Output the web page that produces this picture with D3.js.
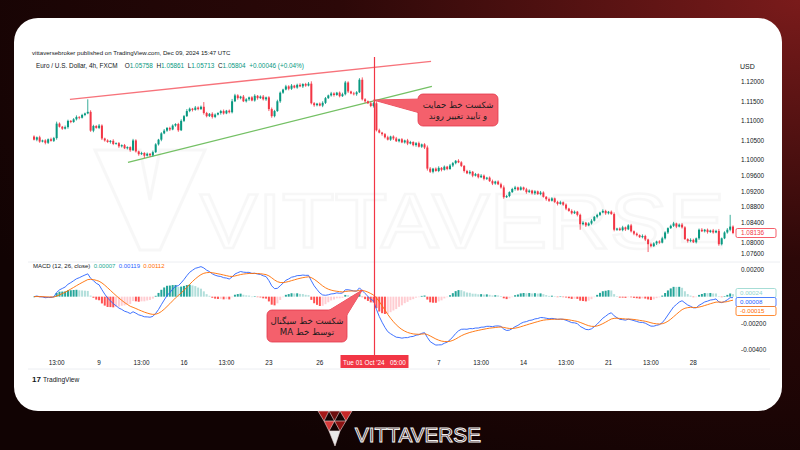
<!DOCTYPE html>
<html><head><meta charset="utf-8">
<script src="https://cdn.jsdelivr.net/npm/d3@7"></script>
<style>html,body{margin:0;padding:0;background:#1a0505;}svg{display:block}</style>
</head><body><svg id="c" width="800" height="450"></svg>
<script>
// ---------------- DATA ----------------
const firstOpen = 1.1060;
const closes = [
1.1052,1.1058,1.1047,1.1050,1.1044,1.1053,1.1049,1.1056,1.1093,1.1085,
1.1080,1.1084,1.1100,1.1097,1.1104,1.1110,1.1108,1.1115,1.1119,1.1123,
1.1075,1.1087,1.1082,1.1088,1.1055,1.1050,1.1046,1.1049,1.1041,1.1043,
1.1035,1.1038,1.1030,1.1033,1.1025,1.1050,1.1022,1.1015,1.1018,1.1011,
1.1016,1.1012,1.1020,1.1040,1.1052,1.1068,1.1075,1.1082,1.1078,1.1088,
1.1092,1.1076,1.1100,1.1112,1.1125,1.1131,1.1128,1.1134,1.1130,1.1136,
1.1120,1.1112,1.1118,1.1110,1.1116,1.1120,1.1125,1.1119,1.1126,1.1122,
1.1150,1.1165,1.1158,1.1162,1.1150,1.1155,1.1160,1.1152,1.1164,1.1158,
1.1162,1.1155,1.1160,1.1130,1.1112,1.1125,1.1150,1.1172,1.1180,1.1188,
1.1182,1.1190,1.1185,1.1192,1.1188,1.1194,1.1190,1.1195,1.1145,1.1140,
1.1144,1.1139,1.1146,1.1158,1.1165,1.1170,1.1166,1.1172,1.1163,1.1168,
1.1198,1.1175,1.1170,1.1168,1.1173,1.1205,1.1155,1.1150,1.1145,1.1138,
1.1145,1.1076,1.1070,1.1066,1.1058,1.1052,1.1060,1.1055,1.1048,1.1053,
1.1045,1.1050,1.1042,1.1046,1.1038,1.1043,1.1034,1.1040,1.1032,1.0978,
1.0970,1.0978,1.0972,1.0980,1.0975,1.0983,1.0977,1.0986,1.0992,1.0998,
1.0994,1.0985,1.0972,1.0966,1.0970,1.0960,1.0964,1.0956,1.0960,1.0952,
1.0955,1.0946,1.0940,1.0945,1.0938,1.0930,1.0905,1.0908,1.0918,1.0926,
1.0930,1.0924,1.0930,1.0925,1.0918,1.0922,1.0915,1.0920,1.0913,1.0917,
1.0906,1.0900,1.0896,1.0902,1.0893,1.0888,1.0892,1.0886,1.0876,1.0870,
1.0864,1.0868,1.0860,1.0836,1.0840,1.0833,1.0838,1.0845,1.0855,1.0860,
1.0866,1.0870,1.0864,1.0868,1.0862,1.0822,1.0825,1.0821,1.0828,1.0823,
1.0833,1.0818,1.0812,1.0808,1.0803,1.0806,1.0797,1.0785,1.0780,1.0787,
1.0792,1.0789,1.0800,1.0815,1.0826,1.0832,1.0838,1.0830,1.0835,1.0828,
1.0798,1.0793,1.0796,1.0790,1.0800,1.0822,1.0818,1.0822,1.0816,1.0820,
1.0815,1.0819,1.0785,1.0800,1.0815,1.0822,1.0830,1.08136];
// wick lengths in pips (0.0001) above the body / below the body
const wickUpPips = [
3,2,4,2,3,2,4,3,5,3, 2,4,3,2,3,4,2,3,2,32, 4,3,2,4,3,2,3,2,4,2, 3,2,3,2,2,4,3,2,3,2,
3,2,4,3,2,3,4,2,3,3, 2,3,4,3,5,3,2,4,3,3, 12,3,2,4,3,2,3,4,2,3, 6,4,3,2,4,3,2,3,4,2,
3,4,2,3,4,3,4,3,2,4, 3,4,2,3,4,2,3,4,6,3, 2,3,4,3,2,4,3,2,3,4, 4,3,2,4,3,4,6,3,2,4,
3,5,4,2,3,4,2,3,4,2, 3,2,4,3,2,3,4,2,3,5, 4,2,3,4,2,3,2,4,3,2, 4,3,2,3,4,2,3,2,4,3,
2,3,4,2,3,4,5,3,2,3, 4,2,3,2,4,3,2,3,2,4, 3,2,4,3,2,3,4,2,3,2, 4,3,2,3,4,2,3,4,2,3,
2,4,3,2,3,4,2,3,4,2, 3,4,2,3,2,4,3,2,4,3, 2,3,4,3,2,3,4,2,3,4, 3,2,4,3,2,3,4,2,3,2,
4,3,5,2,3,4,30,3];
const wickDnPips = [
2,4,3,2,4,3,2,3,4,2, 3,2,4,3,2,3,4,2,3,2, 3,4,2,3,4,3,2,4,3,2, 4,3,2,3,4,2,3,4,2,6,
2,4,3,2,3,4,2,3,4,2, 3,4,2,3,2,3,4,2,3,2, 4,3,2,4,3,2,4,3,2,3, 3,2,4,3,2,3,4,2,3,4,
2,3,4,5,4,3,2,4,3,2, 4,3,2,3,2,4,3,2,3,4, 3,2,4,3,2,3,4,2,3,2, 3,4,2,3,4,2,3,4,2,3,
4,3,2,4,3,2,3,4,2,3, 2,3,4,2,3,4,2,3,4,5, 3,4,2,3,4,2,3,2,4,3, 2,3,4,2,3,4,2,3,2,4,
3,2,4,3,2,3,4,2,3,2, 4,3,2,3,4,2,3,4,2,3, 2,4,3,2,3,4,2,3,4,2, 3,2,4,14,3,4,2,3,2,4,
3,2,4,3,2,4,3,2,3,4, 2,3,4,3,2,3,4,20,3,2, 4,3,2,3,4,2,3,4,2,3, 2,4,3,2,3,4,2,3,4,2,
3,2,4,3,2,3,4,3];
const priceTicks = [1.12,1.115,1.11,1.105,1.10,1.096,1.092,1.088,1.084,1.08,1.076];
const macdTicks = [0.002,-0.002,-0.004];
const timeTickIdx = [8,23,38,53,68,83,101,143,158,173,188,203,218,233];
const timeTickLbl = ["13:00","9","13:00","16","13:00","23","26","7","13:00","14","13:00","21","13:00","28"];
const crossIdx = 120, crossLabel = "Tue 01 Oct '24   05:00";
const lastPrice = 1.08136;
const resistance = [[12.7,1.1155],[140.3,1.1252]];
const support = [[33.2,1.0994],[140.6,1.1188]];
const macdBoxVals = ["0.00024","0.00008","-0.00015"];
const macdHeaderVals = ["0.00007","0.00119","0.00112"];
const callout1 = {i:120, p:1.1153, lines:["شکست خط حمایت","و تایید تغییر روند"]};
const callout2 = {i:116, v:0.0005, lines:["شکست خط سیگنال","توسط خط MA"]};

// ---------------- SETUP ----------------
const W=800,H=450;
const svg=d3.select("#c");
const defs=svg.append("defs");
const rg=defs.append("radialGradient").attr("id","bg").attr("cx","100%").attr("cy","0%").attr("r","115%");
rg.append("stop").attr("offset","0%").attr("stop-color","#7a1b1b");
rg.append("stop").attr("offset","50%").attr("stop-color","#2c0808");
rg.append("stop").attr("offset","100%").attr("stop-color","#110303");
svg.append("rect").attr("width",W).attr("height",H).attr("fill","url(#bg)");
svg.append("rect").attr("x",14).attr("y",18).attr("width",768).attr("height",393).attr("rx",24).attr("fill","#ffffff");

const FONT="'Liberation Sans', Arial, sans-serif";
const x=d3.scaleLinear().domain([0,247]).range([34,733]);
const y=d3.scaleLinear().domain([1.076,1.12]).range([254,81.7]);
const ym=d3.scaleLinear().domain([-0.004,0.002]).range([350,270]);
const UP="#089981", DN="#f23645";

const candles=closes.map((c,i)=>{
  const o=i===0?firstOpen:closes[i-1];
  return {i,o,c,h:Math.max(o,c)+wickUpPips[i]*0.0001,l:Math.min(o,c)-wickDnPips[i]*0.0001};
});

// MACD(12,26,close)
const k12=2/13,k26=2/27,k9=2/10;
let e12=closes[0],e26=closes[0],sig=0;
const macd=[];
closes.forEach((c,i)=>{
  e12=c*k12+e12*(1-k12); e26=c*k26+e26*(1-k26);
  const m=e12-e26; sig=m*k9+sig*(1-k9);
  macd.push({i,m,s:sig,h:m-sig});
});

// ---------------- WATERMARK ----------------
const wm=svg.append("g").attr("opacity",0.028);
wm.append("path").attr("d","M95,150 L140,150 L150,200 L160,150 L205,150 L160,250 L140,250 Z").attr("fill","none").attr("stroke","#000").attr("stroke-width",3);
wm.append("text").attr("x",200).attr("y",248).attr("font-family",FONT).attr("font-size",78)
  .attr("textLength",525).attr("lengthAdjust","spacingAndGlyphs")
  .attr("fill","none").attr("stroke","#000").attr("stroke-width",2.5).text("VITTAVERSE");

// ---------------- HEADER ----------------
svg.append("text").attr("x",32).attr("y",54.5).attr("font-family",FONT).attr("font-size",6.1).attr("fill","#131722")
  .text("vittaversebroker published on TradingView.com, Dec 09, 2024 15:47 UTC");
const h2=svg.append("text").attr("x",36).attr("y",68).attr("font-family",FONT).attr("font-size",6.4).attr("fill","#131722").attr("xml:space","preserve");
h2.append("tspan").text("Euro / U.S. Dollar, 4h, FXCM  ");
[["O","1.05758"],["H","1.05861"],["L","1.05713"],["C","1.05804"]].forEach(([a,b])=>{
  h2.append("tspan").text("  "+a); h2.append("tspan").attr("fill",UP).text(b);
});
h2.append("tspan").attr("fill",UP).text("  +0.00046 (+0.04%)");

// ---------------- PRICE AXIS ----------------
svg.append("text").attr("x",740).attr("y",69).attr("font-family",FONT).attr("font-size",7).attr("fill","#131722").text("USD");
svg.append("g").selectAll("text").data(priceTicks).join("text")
  .attr("x",741).attr("y",d=>y(d)+2.3+(d===1.08?4:0)).attr("font-family",FONT).attr("font-size",6.4).attr("fill","#131722")
  .text(d=>d3.format(".5f")(d));

// ---------------- PANES ----------------
svg.append("line").attr("x1",28).attr("x2",780).attr("y1",262).attr("y2",262).attr("stroke","#eceef2").attr("stroke-width",1);
svg.append("line").attr("x1",28).attr("x2",770).attr("y1",369).attr("y2",369).attr("stroke","#eceef2").attr("stroke-width",1);

defs.append("clipPath").attr("id","pp").append("rect").attr("x",28).attr("y",57).attr("width",708).attr("height",205);
const gp=svg.append("g").attr("clip-path","url(#pp)");

// trend lines
const ln=d3.line().x(d=>x(d[0])).y(d=>y(d[1]));
gp.append("path").attr("d",ln(resistance)).attr("stroke","#f7737b").attr("stroke-width",1.4).attr("fill","none");
gp.append("path").attr("d",ln(support)).attr("stroke","#74c064").attr("stroke-width",1.4).attr("fill","none");

// candles
const cg=gp.append("g");
cg.selectAll("line").data(candles).join("line")
  .attr("x1",d=>x(d.i)).attr("x2",d=>x(d.i)).attr("y1",d=>y(d.h)).attr("y2",d=>y(d.l))
  .attr("stroke",d=>d.c>=d.o?UP:DN).attr("stroke-width",0.8);
cg.selectAll("rect").data(candles).join("rect")
  .attr("x",d=>x(d.i)-1).attr("width",2)
  .attr("y",d=>y(Math.max(d.o,d.c))).attr("height",d=>Math.max(0.8,Math.abs(y(d.o)-y(d.c))))
  .attr("fill",d=>d.c>=d.o?UP:DN);

// last price label
svg.append("rect").attr("x",736).attr("y",y(lastPrice)-4.5).attr("width",40).attr("height",9).attr("rx",1.5)
  .attr("fill","#fff").attr("stroke",DN).attr("stroke-width",0.8);
svg.append("text").attr("x",741).attr("y",y(lastPrice)+2.2).attr("font-family",FONT).attr("font-size",6.4).attr("fill",DN).text(d3.format(".5f")(lastPrice));

// ---------------- MACD ----------------
const mh=svg.append("text").attr("x",33).attr("y",268).attr("font-family",FONT).attr("font-size",6).attr("fill","#131722").attr("xml:space","preserve");
mh.append("tspan").text("MACD (12, 26, close) ");
mh.append("tspan").attr("fill","#22ab94").text(" "+macdHeaderVals[0]);
mh.append("tspan").attr("fill","#2962ff").text("  "+macdHeaderVals[1]);
mh.append("tspan").attr("fill","#ff6d00").text("  "+macdHeaderVals[2]);

const gm=svg.append("g");
gm.selectAll("rect").data(macd).join("rect")
  .attr("x",d=>x(d.i)-1).attr("width",2)
  .attr("y",d=>Math.min(ym(0),ym(d.h))).attr("height",d=>Math.max(0.5,Math.abs(ym(d.h)-ym(0))))
  .attr("fill",(d,i)=>{
    const prev=i>0?macd[i-1].h:0;
    if(d.h>=0) return d.h>=prev?"#26a69a":"#b2dfdb";
    return d.h<prev?"#ff5252":"#ffcdd2";
  });
gm.append("path").attr("d",d3.line().x(d=>x(d.i)).y(d=>ym(d.m))(macd)).attr("fill","none").attr("stroke","#2962ff").attr("stroke-width",0.9);
gm.append("path").attr("d",d3.line().x(d=>x(d.i)).y(d=>ym(d.s))(macd)).attr("fill","none").attr("stroke","#ff6d00").attr("stroke-width",0.9);

svg.append("g").selectAll("text").data(macdTicks).join("text")
  .attr("x",741).attr("y",d=>ym(d)+2.3).attr("font-family",FONT).attr("font-size",6.4).attr("fill","#131722")
  .text(d=>d3.format(".5f")(d).replace("−","-"));
const boxCols=["#8fd4cb","#2962ff","#ff6d00"];
macdBoxVals.forEach((v,j)=>{
  const yc=293+j*9;
  svg.append("rect").attr("x",736).attr("y",yc-4.5).attr("width",40).attr("height",9).attr("rx",1.5)
    .attr("fill","#fff").attr("stroke",boxCols[j]).attr("stroke-width",0.8);
  svg.append("text").attr("x",740).attr("y",yc+2.2).attr("font-family",FONT).attr("font-size",6.2).attr("fill",boxCols[j]).text(v);
});

// ---------------- CROSSHAIR ----------------
const cx=Math.round(x(crossIdx))+0.5;
svg.append("line").attr("x1",cx).attr("x2",cx).attr("y1",57).attr("y2",357).attr("stroke","#f23645").attr("stroke-width",1.2);

// ---------------- TIME AXIS ----------------
svg.append("g").selectAll("text").data(timeTickIdx).join("text")
  .attr("x",d=>x(d)).attr("y",365).attr("text-anchor","middle").attr("font-family",FONT).attr("font-size",6.4).attr("fill","#131722")
  .text((d,i)=>timeTickLbl[i]);
svg.append("rect").attr("x",cx-34).attr("y",355).attr("width",68).attr("height",13).attr("fill",DN);
svg.append("text").attr("x",cx).attr("y",364.5).attr("text-anchor","middle").attr("font-family",FONT).attr("font-size",6.4)
  .attr("fill","#fff").attr("xml:space","preserve").text(crossLabel);

// TradingView logo
svg.append("text").attr("x",32).attr("y",382).attr("font-family",FONT).attr("font-size",8).attr("font-weight","bold").attr("fill","#131722").text("17");
svg.append("text").attr("x",43).attr("y",381.5).attr("font-family",FONT).attr("font-size",6.6).attr("fill","#131722").text("TradingView");

// ---------------- CALLOUTS ----------------
const AR="'DejaVu Sans', 'Noto Sans', sans-serif";
function callout(bx,by,bw,bh,tip,base,lines,lx){
  const g=svg.append("g");
  g.append("path").attr("d",`M${base[0][0]},${base[0][1]} L${tip[0]},${tip[1]} L${base[1][0]},${base[1][1]} Z`)
   .attr("fill","#f4606c").attr("stroke","#e3394b").attr("stroke-width",0.8);
  g.append("rect").attr("x",bx).attr("y",by).attr("width",bw).attr("height",bh).attr("rx",5)
   .attr("fill","#f4606c").attr("stroke","#e3394b").attr("stroke-width",0.8);
  g.append("path").attr("d",`M${base[0][0]},${base[0][1]} L${tip[0]},${tip[1]} L${base[1][0]},${base[1][1]}`)
   .attr("fill","#f4606c").attr("stroke","none");
  lines.forEach((t,j)=>{
    g.append("text").attr("x",lx).attr("y",by+bh/2-2+j*11).attr("text-anchor","middle").attr("direction","rtl")
     .attr("font-family",AR).attr("font-size",8.6).attr("fill","#1c1c1c").text(t);
  });
}
callout(418,94,80,32,[x(callout1.i),y(callout1.p)],[[420,99],[420,113]],callout1.lines,458);
callout(267,310,80,32,[x(callout2.i),ym(callout2.v)],[[328,311],[345,318]],callout2.lines,307);

// ---------------- BOTTOM LOGO ----------------
const lg=svg.append("g");
const tri=[
 [[318,411],[329,411],[324,421],"#a51818"],
 [[329,411],[340,411],[334.5,421],"#6e0f0f"],
 [[340,411],[352,411],[346,421],"#c62828"],
 [[324,421],[334.5,421],[329,431],"#d63a3a"],
 [[334.5,421],[346,421],[340,431],"#8b1212"],
 [[329,431],[340,431],[335,446],"#e8e8e8"]];
tri.forEach(t=>lg.append("path").attr("d",`M${t[0]}L${t[1]}L${t[2]}Z`).attr("fill",t[3]).attr("stroke","#e9d6d6").attr("stroke-width",0.6));
lg.append("text").attr("x",355).attr("y",442).attr("font-family",FONT).attr("font-size",21)
  .attr("textLength",126).attr("lengthAdjust","spacingAndGlyphs")
  .attr("fill","#2a0808").attr("stroke","#f0f0f0").attr("stroke-width",1).text("VITTAVERSE");
</script></body></html>
